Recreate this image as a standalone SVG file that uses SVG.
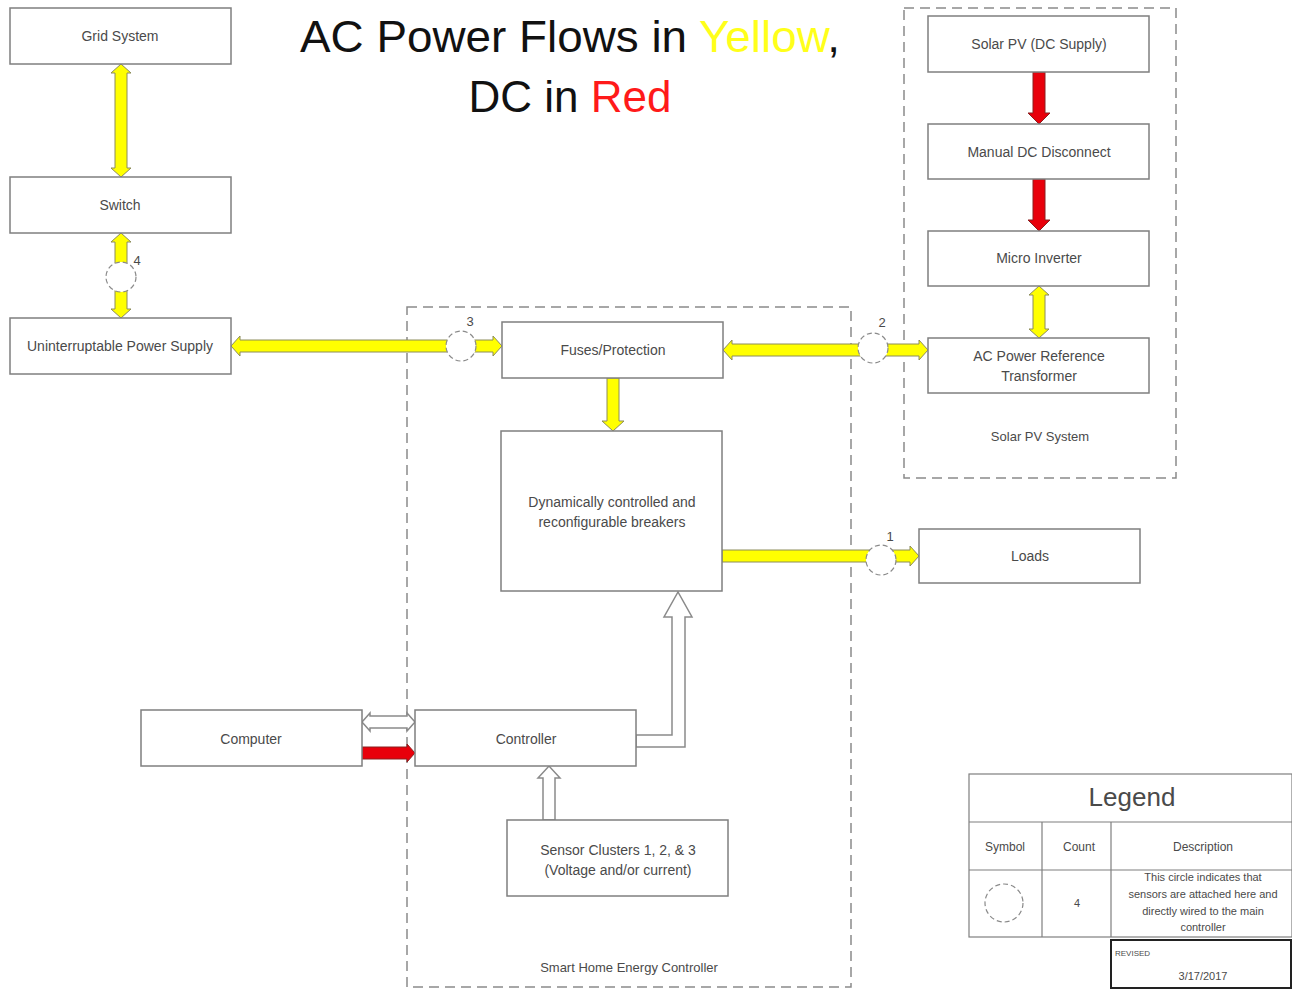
<svg xmlns="http://www.w3.org/2000/svg" width="1292" height="989" viewBox="0 0 1292 989">
<style>
.box{fill:#fff;stroke:#7f7f7f;stroke-width:1.5}
.t{font-family:"Liberation Sans",Arial,sans-serif;font-size:14px;fill:#4a4a4a;text-anchor:middle}
.lbl{font-family:"Liberation Sans",Arial,sans-serif;font-size:13px;fill:#4a4a4a;text-anchor:middle}
.cont{fill:none;stroke:#8a8a8a;stroke-width:1.5;stroke-dasharray:10,6}
.ya{fill:#ffff00;stroke:#8c8c5a;stroke-width:1}
.ra{fill:#e8000b;stroke:#8a2020;stroke-width:1}
.wa{fill:#fff;stroke:#8a8a8a;stroke-width:1.5}
.sens{fill:#fff;stroke:#8a8a8a;stroke-width:1.2;stroke-dasharray:5,3}
.title{font-family:"Liberation Sans",Arial,sans-serif;font-size:44px;fill:#111;text-anchor:middle}
.tab{fill:#fff;stroke:#7f7f7f;stroke-width:1.2}
.lg{font-family:"Liberation Sans",Arial,sans-serif;fill:#4a4a4a;text-anchor:middle}
</style>

<text class="title" x="570" y="52" textLength="540" lengthAdjust="spacingAndGlyphs">AC Power Flows in <tspan fill="#ffff1a">Yellow</tspan>,</text>
<text class="title" x="570" y="112">DC in <tspan fill="#ff1a1a">Red</tspan></text>

<g id="solar-pv-system">
<rect class="cont" x="904" y="8" width="272" height="470"/>
<text class="lbl" x="1040" y="441">Solar PV System</text>
</g>
<g id="smart-home-energy-controller">
<rect class="cont" x="407" y="307" width="444" height="680"/>
<text class="lbl" x="629" y="972">Smart Home Energy Controller</text>
</g>

<g id="connectors">
<polygon class="ya" points="121,64 131,73 127,73 127,168 131,168 121,177 111,168 115,168 115,73 111,73"/>
<polygon class="ya" points="121,233 131,242 127,242 127,309 131,309 121,318 111,309 115,309 115,242 111,242"/>
<circle class="sens" cx="121" cy="277" r="15"/>
<text class="lbl" x="137" y="265">4</text>
<polygon class="ya" points="231,346 240,336 240,340 493,340 493,336 502,346 493,356 493,352 240,352 240,356"/>
<circle class="sens" cx="461" cy="346" r="15"/>
<text class="lbl" x="470" y="326">3</text>
<polygon class="ya" points="723,350 732,340 732,344 919,344 919,340 928,350 919,360 919,356 732,356 732,360"/>
<circle class="sens" cx="873" cy="348" r="15"/>
<text class="lbl" x="882" y="327">2</text>
<polygon class="ra" points="1033,72 1045,72 1045,113 1050,113 1039,124 1028,113 1033,113"/>
<polygon class="ra" points="1033,179 1045,179 1045,220 1050,220 1039,231 1028,220 1033,220"/>
<polygon class="ya" points="1039,286 1049,295 1045,295 1045,329 1049,329 1039,338 1029,329 1033,329 1033,295 1029,295"/>
<polygon class="ya" points="607,378 619,378 619,421 624,421 613,431 602,421 607,421"/>
<polygon class="ya" points="722,550 910,550 910,546 919,556 910,566 910,562 722,562"/>
<circle class="sens" cx="881" cy="560" r="15"/>
<text class="lbl" x="890" y="541">1</text>
<polygon class="wa" points="362,722 370,713 370,716 407,716 407,713 415,722 407,731 407,728 370,728 370,731"/>
<polygon class="ra" points="362,747 407,747 407,744 415,753 407,762 407,759 362,759"/>
<polygon class="wa" points="636,735 672,735 672,617 664,617 678,592 692,617 685,617 685,747 636,747"/>
<polygon class="wa" points="543,820 543,778 538,778 549,766 560,778 555,778 555,820"/>
</g>

<g id="grid-system"><rect class="box" x="10" y="8" width="221" height="56"/><text class="t" x="120" y="41">Grid System</text></g>
<g id="switch"><rect class="box" x="10" y="177" width="221" height="56"/><text class="t" x="120" y="210">Switch</text></g>
<g id="ups"><rect class="box" x="10" y="318" width="221" height="56"/><text class="t" x="120" y="351">Uninterruptable Power Supply</text></g>
<g id="fuses"><rect class="box" x="502" y="322" width="221" height="56"/><text class="t" x="613" y="355">Fuses/Protection</text></g>
<g id="breakers"><rect class="box" x="501" y="431" width="221" height="160"/><text class="t" x="612" y="507">Dynamically controlled and</text><text class="t" x="612" y="527">reconfigurable breakers</text></g>
<g id="loads"><rect class="box" x="919" y="529" width="221" height="54"/><text class="t" x="1030" y="561">Loads</text></g>
<g id="computer"><rect class="box" x="141" y="710" width="221" height="56"/><text class="t" x="251" y="744">Computer</text></g>
<g id="controller"><rect class="box" x="415" y="710" width="221" height="56"/><text class="t" x="526" y="744">Controller</text></g>
<g id="sensors"><rect class="box" x="507" y="820" width="221" height="76"/><text class="t" x="618" y="855">Sensor Clusters 1, 2, &amp; 3</text><text class="t" x="618" y="875">(Voltage and/or current)</text></g>
<g id="solar-pv"><rect class="box" x="928" y="16" width="221" height="56"/><text class="t" x="1039" y="49">Solar PV (DC Supply)</text></g>
<g id="manual-dc"><rect class="box" x="928" y="124" width="221" height="55"/><text class="t" x="1039" y="157">Manual DC Disconnect</text></g>
<g id="micro-inverter"><rect class="box" x="928" y="231" width="221" height="55"/><text class="t" x="1039" y="263">Micro Inverter</text></g>
<g id="ac-transformer"><rect class="box" x="928" y="338" width="221" height="55"/><text class="t" x="1039" y="361">AC Power Reference</text><text class="t" x="1039" y="381">Transformer</text></g>

<g id="legend">
<rect class="tab" x="969" y="774" width="323" height="163"/>
<line class="tab" x1="969" y1="822" x2="1292" y2="822"/>
<line class="tab" x1="969" y1="870" x2="1292" y2="870"/>
<line class="tab" x1="1042" y1="822" x2="1042" y2="937"/>
<line class="tab" x1="1111" y1="822" x2="1111" y2="937"/>
<text class="lg" x="1132" y="806" font-size="26">Legend</text>
<text class="lg" x="1005" y="851" font-size="12">Symbol</text>
<text class="lg" x="1079" y="851" font-size="12">Count</text>
<text class="lg" x="1203" y="851" font-size="12">Description</text>
<circle class="sens" cx="1004" cy="903" r="19"/>
<text class="lg" x="1077" y="907" font-size="11">4</text>
<text class="lg" x="1203" y="881" font-size="11">This circle indicates that</text>
<text class="lg" x="1203" y="898" font-size="11">sensors are attached here and</text>
<text class="lg" x="1203" y="915" font-size="11">directly wired to the main</text>
<text class="lg" x="1203" y="931" font-size="11">controller</text>
</g>
<g id="revised">
<rect x="1111" y="940" width="180" height="48" fill="#fff" stroke="#222" stroke-width="2"/>
<text x="1115" y="956" font-family="Liberation Sans,Arial,sans-serif" font-size="8" fill="#4a4a4a">REVISED</text>
<text class="lg" x="1203" y="980" font-size="11">3/17/2017</text>
</g>
</svg>
